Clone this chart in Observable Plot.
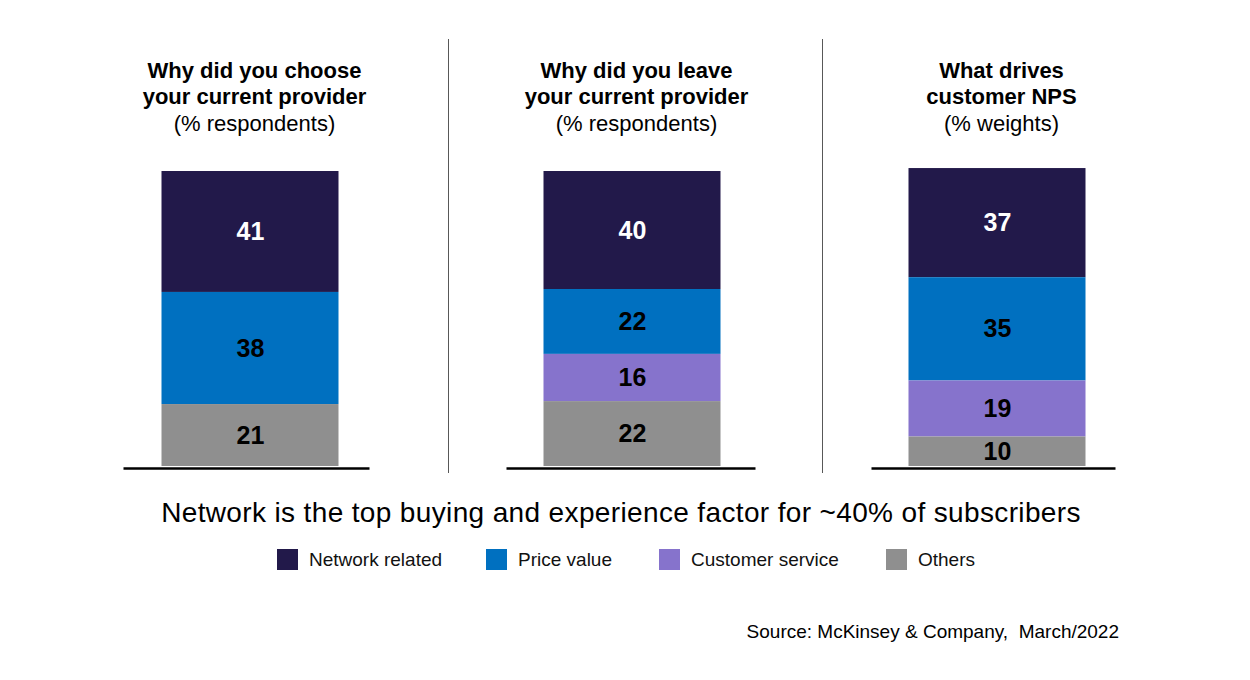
<!DOCTYPE html>
<html>
<head>
<meta charset="utf-8">
<script src="https://cdn.jsdelivr.net/npm/d3@7"></script>
<script src="https://cdn.jsdelivr.net/npm/@observablehq/plot@0.6"></script>
<style>
  body { margin: 0; background: #fff; font-family: "Liberation Sans", Arial, sans-serif; }
  #root { position: relative; width: 1250px; height: 680px; overflow: hidden; background: #fff; }
  .panel { position: absolute; top: 0; }
  .sep { position: absolute; top: 39px; height: 434px; width: 1.6px; background: #585858; z-index: 2; }
  .headline { position: absolute; left: -4px; width: 1250px; top: 499px; text-align: center;
              font-size: 28px; line-height: 28px; letter-spacing: 0.36px; color: #000; white-space: nowrap; }
  .legend-item { position: absolute; top: 549px; height: 21px; display: flex; align-items: center; }
  .swatch { width: 21px; height: 21px; margin-right: 11px; }
  .legend-label { font-size: 19px; line-height: 21px; color: #111; white-space: nowrap; }
  .source { position: absolute; right: 131px; top: 622px; font-size: 19px; line-height: 19px;
            color: #000; white-space: pre; }
</style>
</head>
<body>
<div id="root"></div>
<script>
// ---- data ----
const categories = ["Network related", "Price value", "Customer service", "Others"];
const colors = ["#22194A", "#0070C0", "#8673CC", "#8F8F8F"];
const panelKeys = ["choose", "leave", "nps"];
const titles = [
  "Why did you choose\nyour current provider",
  "Why did you leave\nyour current provider",
  "What drives\ncustomer NPS"
];
const subtitles = ["(% respondents)", "(% respondents)", "(% weights)"];
const chooseValues = [41, 38, null, 21];
const leaveValues = [40, 22, 16, 22];
const npsValues = [37, 35, 19, 10];
const headline = "Network is the top buying and experience factor for ~40% of subscribers";
const source = "Source: McKinsey & Company,  March/2022";

// ---- layout ----
const root = document.getElementById("root");
const panelCenters = [249.5, 631.5, 996.5];
const baseShift = [-3.5, -1, -3.5];
const baseWidths = [246, 249, 244];
const panelWidth = 380;
const barWidth = 177;
const font = "Liberation Sans, Arial, sans-serif";

const allValues = [chooseValues, leaveValues, npsValues];

panelKeys.forEach((key, i) => {
  const rows = [];
  categories.forEach((c, j) => {
    const v = allValues[i][j];
    if (v != null) rows.push({panel: key, category: c, value: v});
  });
  const barInset = (panelWidth - barWidth) / 2;
  const baseInset = (panelWidth - baseWidths[i]) / 2;
  const chart = Plot.plot({
    width: panelWidth,
    height: 490,
    marginTop: 171,
    marginBottom: 24,
    marginLeft: 0,
    marginRight: 0,
    style: {fontFamily: font, background: "transparent", overflow: "visible"},
    x: {type: "band", domain: [key], padding: 0, axis: null},
    y: {domain: [0, 100], axis: null},
    color: {domain: categories, range: colors},
    marks: [
      Plot.barY(rows, {x: "panel", y: "value", fill: "category", reverse: true,
        insetLeft: barInset, insetRight: barInset}),
      Plot.text(rows, Plot.stackY({x: "panel", y: "value", reverse: true,
        text: d => d.category === categories[0] ? String(d.value) : "",
        fill: "#ffffff", fontSize: 25, fontWeight: "bold"})),
      Plot.text(rows, Plot.stackY({x: "panel", y: "value", reverse: true,
        text: d => d.category === categories[0] ? "" : String(d.value),
        fill: "#000000", fontSize: 25, fontWeight: "bold"})),
      Plot.ruleY([0], {stroke: "#000", strokeWidth: 2.5, dy: 2, dx: baseShift[i],
        insetLeft: baseInset, insetRight: baseInset}),
      Plot.text([titles[i]], {frameAnchor: "top", lineAnchor: "top", dy: -113, dx: 4,
        fontSize: 22, fontWeight: "bold", lineHeight: 1.22, fill: "#000"}),
      Plot.text([subtitles[i]], {frameAnchor: "top", lineAnchor: "top", dy: -56, dx: 4,
        fontSize: 22, fill: "#000"})
    ]
  });
  chart.classList.add("panel");
  chart.style.left = (panelCenters[i] - panelWidth / 2) + "px";
  root.appendChild(chart);
});

// separators between panels
[447.5, 821.5].forEach(x => {
  const s = document.createElement("div");
  s.className = "sep";
  s.style.left = x + "px";
  root.appendChild(s);
});

// headline
const h = document.createElement("div");
h.className = "headline";
h.textContent = headline;
root.appendChild(h);

// legend
const legendLeft = [277, 486, 659, 886];
categories.forEach((c, j) => {
  const item = document.createElement("div");
  item.className = "legend-item";
  item.style.left = legendLeft[j] + "px";
  const sw = document.createElement("div");
  sw.className = "swatch";
  sw.style.background = colors[j];
  const lab = document.createElement("span");
  lab.className = "legend-label";
  lab.textContent = c;
  item.appendChild(sw);
  item.appendChild(lab);
  root.appendChild(item);
});

// source
const src = document.createElement("div");
src.className = "source";
src.textContent = source;
root.appendChild(src);
</script>
</body>
</html>
